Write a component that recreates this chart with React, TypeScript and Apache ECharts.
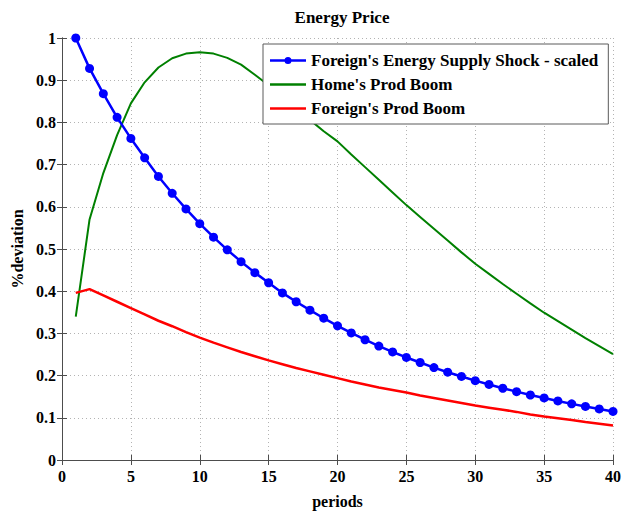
import React, { useEffect, useRef } from "react";
import * as echarts from "echarts";

const periods = Array.from({ length: 40 }, (_, i) => i + 1);

const foreignSupplyShock = [
  1.0, 0.928, 0.868, 0.812, 0.762, 0.716, 0.672, 0.632, 0.595, 0.56,
  0.528, 0.498, 0.47, 0.444, 0.42, 0.396, 0.375, 0.355, 0.336, 0.318,
  0.301, 0.285, 0.27, 0.256, 0.243, 0.231, 0.219, 0.208, 0.198, 0.188,
  0.179, 0.17, 0.162, 0.154, 0.147, 0.14, 0.133, 0.127, 0.121, 0.115,
];

const homeProdBoom = [
  0.34, 0.57, 0.68, 0.77, 0.845, 0.895, 0.93, 0.952, 0.963, 0.966,
  0.963, 0.953, 0.937, 0.913, 0.888, 0.862, 0.835, 0.806, 0.779, 0.755,
  0.724, 0.694, 0.664, 0.634, 0.604, 0.576, 0.548, 0.52, 0.492, 0.465,
  0.441, 0.417, 0.394, 0.371, 0.349, 0.329, 0.309, 0.289, 0.27, 0.251,
];

const foreignProdBoom = [
  0.396, 0.405, 0.39, 0.375, 0.36, 0.345, 0.33, 0.317, 0.303, 0.29,
  0.278, 0.267, 0.256, 0.246, 0.236, 0.227, 0.218, 0.21, 0.202, 0.194,
  0.186, 0.179, 0.172, 0.166, 0.16, 0.153, 0.147, 0.141, 0.135, 0.129,
  0.124, 0.119, 0.114, 0.108, 0.103, 0.099, 0.095, 0.09, 0.086, 0.082,
];

const seriesNames = [
  "Foreign's Energy Supply Shock - scaled",
  "Home's Prod Boom",
  "Foreign's Prod Boom",
];

const FONT = "'Liberation Serif', 'Times New Roman', serif";

const ICON_LINE_DOT =
  "path://M0,2.25 L36,2.25 L36,4.75 L0,4.75 Z M18,0 A3.5,3.5 0 1,1 18,7 A3.5,3.5 0 1,1 18,0 Z";
const ICON_LINE = "path://M0,0 L36,0 L36,2.5 L0,2.5 Z";

export default function App() {
  const ref = useRef<HTMLDivElement>(null);
  useEffect(() => {
    if (!ref.current) return;
    const chart = echarts.init(ref.current, undefined, { renderer: "svg" });
    const pair = (arr: number[]) => periods.map((p, i) => [p, arr[i]]);
    const axisLine = { show: true, lineStyle: { color: "#4d4d4d", width: 1 } };
    const tick = { show: true, inside: true, length: 5, lineStyle: { color: "#4d4d4d" } };
    const gridLine = {
      show: true,
      lineStyle: { color: "#b3b3b3", type: [1, 3] as any, width: 1 },
    };
    const labelStyle = { fontFamily: FONT, fontWeight: "bold", fontSize: 16, color: "#000" };
    chart.setOption({
      animation: false,
      backgroundColor: "#ffffff",
      title: {
        text: "Energy Price",
        left: 337,
        textAlign: "center",
        top: 4,
        textStyle: { fontFamily: FONT, fontWeight: "bold", fontSize: 17, color: "#000" },
      },
      legend: {
        left: 263,
        top: 44,
        orient: "vertical",
        backgroundColor: "#ffffff",
        borderColor: "#5a5a5a",
        borderWidth: 1,
        borderRadius: 0,
        padding: [8, 10, 7, 7],
        itemGap: 7,
        itemWidth: 36,
        itemHeight: 17,
        symbolKeepAspect: true,
        textStyle: { fontFamily: FONT, fontWeight: "bold", fontSize: 17, color: "#000" },
        data: [
          { name: seriesNames[0], icon: ICON_LINE_DOT },
          { name: seriesNames[1], icon: ICON_LINE },
          { name: seriesNames[2], icon: ICON_LINE },
        ],
      },
      grid: { left: 62, right: 8, top: 38, bottom: 52, show: false },
      xAxis: [
        {
          type: "value",
          min: 0,
          max: 40,
          interval: 5,
          name: "periods",
          nameLocation: "middle",
          nameGap: 33,
          nameTextStyle: labelStyle,
          axisLine,
          axisTick: tick,
          axisLabel: { ...labelStyle, margin: 8 },
          splitLine: gridLine,
        },
        {
          type: "value",
          position: "top",
          min: 0,
          max: 40,
          interval: 5,
          axisLine,
          axisTick: tick,
          axisLabel: { show: false },
          splitLine: { show: false },
        },
      ],
      yAxis: [
        {
          type: "value",
          min: 0,
          max: 1,
          interval: 0.1,
          name: "%deviation",
          nameLocation: "middle",
          nameGap: 34,
          nameTextStyle: labelStyle,
          axisLine,
          axisTick: tick,
          axisLabel: {
            ...labelStyle,
            margin: 6,
            formatter: (v: number) => String(Math.round(v * 10) / 10),
          },
          splitLine: gridLine,
        },
        {
          type: "value",
          position: "right",
          min: 0,
          max: 1,
          interval: 0.1,
          axisLine,
          axisTick: tick,
          axisLabel: { show: false },
          splitLine: { show: false },
        },
      ],
      series: [
        {
          name: seriesNames[1],
          type: "line",
          data: pair(homeProdBoom),
          showSymbol: false,
          symbol: "none",
          lineStyle: { color: "#008000", width: 2 },
          itemStyle: { color: "#008000" },
          z: 2,
        },
        {
          name: seriesNames[2],
          type: "line",
          data: pair(foreignProdBoom),
          showSymbol: false,
          symbol: "none",
          lineStyle: { color: "#ff0000", width: 2.5 },
          itemStyle: { color: "#ff0000" },
          z: 2,
        },
        {
          name: seriesNames[0],
          type: "line",
          data: pair(foreignSupplyShock),
          symbol: "circle",
          symbolSize: 9,
          lineStyle: { color: "#0000ff", width: 2.5 },
          itemStyle: { color: "#0000ff" },
          z: 3,
        },
      ],
    });
    return () => chart.dispose();
  }, []);
  return (
    <div
      ref={ref}
      style={{ position: "fixed", left: 0, top: 0, width: 624, height: 514 }}
    />
  );
}
